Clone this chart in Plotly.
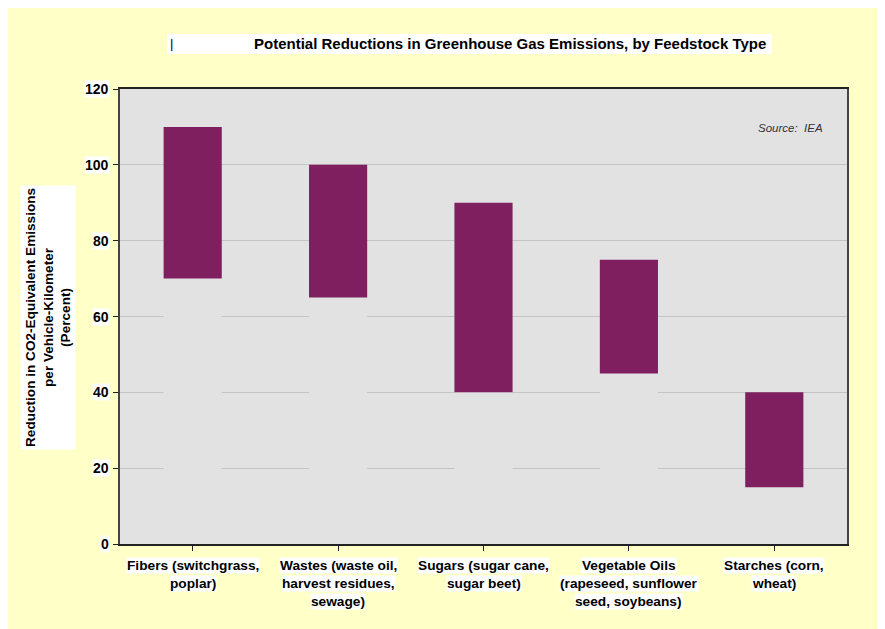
import plotly.graph_objects as go

# feedstock ranges (percent reduction)
categories = ["Fibers (switchgrass,<br>poplar)",
              "Wastes (waste oil,<br>harvest residues,<br>sewage)",
              "Sugars (sugar cane,<br>sugar beet)",
              "Vegetable Oils<br>(rapeseed, sunflower<br>seed, soybeans)",
              "Starches (corn,<br>wheat)"]
low = [70, 65, 40, 45, 15]
high = [110, 100, 90, 75, 40]
y_ticks = [0, 20, 40, 60, 80, 100, 120]

PLOT_BG = "#E2E2E2"
BAR = "#7F1F5F"
YELLOW = "#FFFFC8"
FONT = "Liberation Sans, Arial, sans-serif"

# plot area in page pixels: left 120, top 89, width 727, height 455
PL, PT, PW, PH = 120, 89, 727, 455


def px(xpix):
    return (xpix - PL) / PW


def py(ypix):
    return (PT + PH - ypix) / PH


x = list(range(len(categories)))
span = [h - l for h, l in zip(high, low)]

fig = go.Figure()
# base bar in the plot colour hides the gridlines under each range
fig.add_trace(go.Bar(x=x, y=low, marker=dict(color=PLOT_BG, line_width=0),
                     width=0.4, hoverinfo="skip", showlegend=False))
fig.add_trace(go.Bar(x=x, y=span, base=low, marker=dict(color=BAR, line_width=0),
                     width=0.4, showlegend=False))

# page body margin is 8px, so the figure origin sits at (8, 8)
fig.update_layout(
    width=885, height=629,
    barmode="overlay",
    paper_bgcolor=YELLOW,
    plot_bgcolor=PLOT_BG,
    margin=dict(l=PL - 8, r=885 - (PL - 8) - PW, t=PT - 8, b=629 - (PT - 8) - PH),
    font=dict(family=FONT, size=14, color="black"),
    showlegend=False,
)

fig.update_xaxes(range=[-0.5, 4.5], tickvals=x, showticklabels=False,
                 ticks="outside", tickson="boundaries", ticklen=5, tickcolor="#222",
                 showline=True, linecolor="#222", linewidth=1.5, mirror=True,
                 showgrid=False, zeroline=False)
fig.update_yaxes(range=[0, 120], tickvals=y_ticks, showticklabels=False,
                 ticks="outside", ticklen=5, tickcolor="#222",
                 showline=True, linecolor="#444", linewidth=1.5, mirror=True,
                 showgrid=True, gridcolor="#C4C4C4", gridwidth=1, zeroline=False)

# title with its white box
fig.add_shape(type="rect", xref="paper", yref="paper",
              x0=px(167), x1=px(772), y0=py(54), y1=py(34),
              fillcolor="white", line_width=0)
fig.add_annotation(text="|", xref="paper", yref="paper",
                   x=px(168), y=py(44), xanchor="left", yanchor="middle",
                   showarrow=False, font=dict(size=13))
fig.add_annotation(text="<b>Potential Reductions in Greenhouse Gas Emissions, by Feedstock Type</b>",
                   xref="paper", yref="paper",
                   x=px(510), y=py(44), xanchor="center", yanchor="middle",
                   showarrow=False, font=dict(size=15))

# y tick labels with white boxes
for v in y_ticks:
    fig.add_annotation(text="<b>%d</b>" % v, xref="paper", yref="y",
                       x=px(110), y=v, xanchor="right", yanchor="middle",
                       showarrow=False, bgcolor="white", borderpad=0,
                       font=dict(size=14))

# category labels, one white box per line
for i, c in enumerate(categories):
    for j, line in enumerate(c.split("<br>")):
        fig.add_annotation(text="<b>%s</b>" % line, xref="x", yref="paper",
                           x=i, y=py(565 + 18 * j), xanchor="center", yanchor="middle",
                           showarrow=False, bgcolor="white", borderpad=0,
                           font=dict(size=13.7))

# y axis title
fig.add_annotation(text="<b>Reduction in CO2-Equivalent Emissions<br>per Vehicle-Kilometer<br>(Percent)</b>",
                   xref="paper", yref="paper",
                   x=px(48), y=py(318), xanchor="center", yanchor="middle",
                   textangle=-90, showarrow=False, bgcolor="white", borderpad=2,
                   font=dict(size=13.6))

fig.add_annotation(text="<i>Source:  IEA</i>", xref="paper", yref="paper",
                   x=px(825), y=py(128), xanchor="right", yanchor="middle",
                   showarrow=False, font=dict(size=11.5, color="#333"))

fig.write_html("out.html")
